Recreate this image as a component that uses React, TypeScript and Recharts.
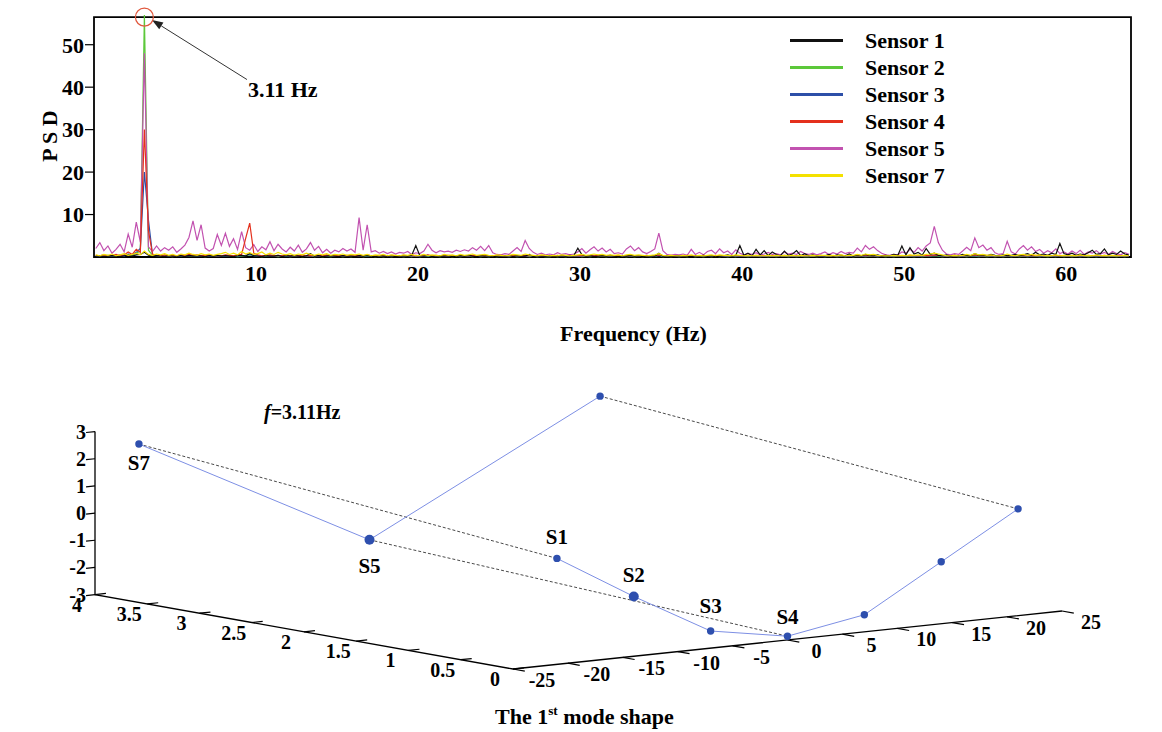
import React from 'react';
import {
  LineChart,
  Line,
  XAxis,
  YAxis,
  Legend,
  ReferenceArea,
  ReferenceDot,
  ReferenceLine,
  ScatterChart,
  Scatter,
} from 'recharts';

const FONT = '"Liberation Serif", "Times New Roman", serif';

// ---- PSD spectra: 0.25 Hz bins, first bin at 0.11 Hz (16 bins per row = 4 Hz)
const F_START = 0.11;
const F_STEP = 0.25;
const PEAK_FREQ = 3.11;

const SENSOR_1 = [
  0.2, 0.3, 0.1, 0.2, 0.3, 0.2, 0.1, 0.3, 0.4, 0.2, 0.5, 0.6, 1.1, 0.4, 0.2, 0.3,
  0.2, 0.1, 0.3, 0.2, 0.2, 0.3, 0.1, 0.4, 0.2, 0.3, 0.2, 0.1, 0.3, 0.2, 0.4, 0.2,
  0.3, 0.2, 0.1, 0.3, 0.4, 0.2, 0.9, 0.3, 0.2, 0.1, 0.3, 0.2, 0.2, 0.4, 0.1, 0.3,
  0.2, 0.3, 0.2, 0.1, 0.3, 0.8, 0.2, 0.3, 0.1, 0.2, 0.3, 0.2, 0.1, 0.3, 0.2, 0.2,
  0.1, 0.3, 0.2, 0.4, 0.2, 0.1, 0.3, 0.2, 0.2, 0.3, 0.1, 0.2, 0.3, 0.2, 0.4, 2.7,
  0.3, 0.2, 0.4, 0.1, 0.3, 0.2, 0.2, 0.3, 0.1, 0.2, 0.3, 0.2, 0.4, 0.2, 0.1, 0.3,
  0.2, 0.3, 0.1, 0.2, 0.3, 0.2, 0.4, 0.1, 0.3, 0.2, 0.2, 0.6, 0.1, 0.3, 0.2, 0.2,
  0.3, 0.1, 0.2, 0.3, 0.2, 0.4, 0.3, 2.1, 0.6, 0.2, 0.3, 0.1, 0.2, 0.3, 0.2, 0.4,
  0.2, 0.1, 0.3, 0.2, 0.4, 0.2, 0.3, 0.1, 0.2, 0.3, 0.2, 0.9, 0.2, 0.3, 0.1, 0.2,
  0.3, 0.2, 0.2, 0.1, 0.3, 0.2, 0.4, 0.2, 0.3, 0.1, 0.2, 0.3, 0.5, 0.2, 0.4, 2.7,
  0.4, 0.9, 0.3, 1.8, 0.5, 1.5, 0.3, 1.2, 0.6, 0.3, 1.4, 0.4, 0.7, 1.5, 0.3, 0.8,
  0.3, 0.5, 0.2, 0.4, 0.3, 0.6, 0.2, 0.5, 0.4, 0.3, 0.7, 0.2, 0.5, 0.3, 0.6, 0.4,
  0.3, 0.5, 0.2, 0.4, 0.3, 0.6, 0.4, 2.6, 0.5, 2.2, 0.7, 1.1, 0.4, 2.0, 0.6, 0.9,
  0.4, 0.3, 0.5, 0.2, 0.4, 0.3, 0.6, 0.4, 0.3, 0.8, 0.4, 0.5, 0.3, 0.6, 0.4, 0.3,
  0.5, 0.3, 0.4, 0.6, 0.3, 0.5, 0.8, 0.4, 1.1, 0.5, 0.7, 0.4, 0.9, 0.6, 3.2, 0.8,
  0.5, 0.9, 0.4, 0.7, 0.5, 1.0, 1.6, 0.6, 0.8, 1.9, 0.5, 0.9, 0.6, 1.4, 0.7, 0.5,
];

const SENSOR_2 = [
  0.3, 0.2, 0.4, 0.2, 0.3, 0.2, 0.5, 0.3, 0.6, 0.4, 0.9, 1.4, 57.0, 1.6, 0.4, 0.3,
  0.2, 0.3, 0.2, 0.1, 0.3, 0.2, 0.4, 0.3, 0.2, 0.3, 0.2, 0.1, 0.2, 0.3, 0.2, 0.2,
  0.3, 0.2, 0.2, 0.1, 0.2, 0.3, 0.5, 0.4, 0.2, 0.1, 0.2, 0.3, 0.2, 0.1, 0.2, 0.2,
  0.1, 0.2, 0.2, 0.1, 0.2, 0.3, 0.1, 0.2, 0.1, 0.2, 0.1, 0.2, 0.2, 0.1, 0.2, 0.1,
  0.2, 0.3, 0.1, 0.2, 0.2, 0.1, 0.2, 0.1, 0.2, 0.1, 0.2, 0.2, 0.1, 0.2, 0.1, 0.3,
  0.1, 0.2, 0.2, 0.1, 0.2, 0.1, 0.2, 0.2, 0.1, 0.2, 0.1, 0.2, 0.2, 0.1, 0.2, 0.1,
  0.2, 0.1, 0.2, 0.1, 0.2, 0.2, 0.1, 0.2, 0.1, 0.2, 0.3, 0.1, 0.2, 0.1, 0.2, 0.1,
  0.1, 0.2, 0.1, 0.2, 0.1, 0.2, 0.2, 0.3, 0.1, 0.2, 0.1, 0.2, 0.1, 0.2, 0.1, 0.2,
  0.2, 0.1, 0.2, 0.1, 0.2, 0.1, 0.2, 0.1, 0.2, 0.1, 0.2, 0.4, 0.1, 0.2, 0.1, 0.2,
  0.1, 0.2, 0.1, 0.2, 0.1, 0.2, 0.1, 0.2, 0.1, 0.2, 0.1, 0.2, 0.1, 0.2, 0.1, 0.3,
  0.2, 0.1, 0.2, 0.3, 0.1, 0.2, 0.1, 0.2, 0.1, 0.2, 0.2, 0.1, 0.2, 0.1, 0.2, 0.1,
  0.1, 0.2, 0.1, 0.2, 0.1, 0.2, 0.2, 0.1, 0.2, 0.1, 0.2, 0.1, 0.2, 0.2, 0.1, 0.2,
  0.2, 0.1, 0.2, 0.1, 0.2, 0.1, 0.2, 0.3, 0.1, 0.2, 0.1, 0.2, 0.1, 0.2, 0.2, 0.3,
  0.2, 0.1, 0.2, 0.1, 0.2, 0.1, 0.2, 0.1, 0.2, 0.2, 0.1, 0.2, 0.1, 0.2, 0.1, 0.2,
  0.1, 0.2, 0.1, 0.2, 0.1, 0.2, 0.1, 0.2, 0.2, 0.1, 0.2, 0.1, 0.2, 0.1, 0.3, 0.1,
  0.2, 0.1, 0.2, 0.1, 0.2, 0.1, 0.2, 0.1, 0.2, 0.2, 0.1, 0.2, 0.1, 0.2, 0.1, 0.2,
];

const SENSOR_3 = [
  0.2, 0.3, 0.2, 0.4, 0.2, 0.3, 0.4, 0.2, 0.7, 0.5, 1.1, 2.0, 20.0, 8.7, 0.6, 0.3,
  0.3, 0.2, 0.3, 0.2, 0.2, 0.3, 0.2, 0.4, 0.3, 0.2, 0.3, 0.2, 0.2, 0.3, 0.2, 0.2,
  0.2, 0.3, 0.2, 0.2, 0.3, 0.4, 0.6, 0.3, 0.2, 0.2, 0.3, 0.2, 0.2, 0.3, 0.2, 0.2,
  0.2, 0.2, 0.3, 0.2, 0.2, 0.3, 0.2, 0.2, 0.2, 0.3, 0.2, 0.2, 0.3, 0.2, 0.2, 0.2,
  0.2, 0.3, 0.2, 0.3, 0.2, 0.2, 0.3, 0.2, 0.2, 0.2, 0.3, 0.2, 0.2, 0.3, 0.2, 0.2,
  0.2, 0.2, 0.3, 0.2, 0.2, 0.3, 0.2, 0.2, 0.2, 0.3, 0.2, 0.2, 0.2, 0.3, 0.2, 0.2,
  0.3, 0.2, 0.2, 0.2, 0.3, 0.2, 0.2, 0.3, 0.2, 0.2, 0.2, 0.3, 0.2, 0.2, 0.2, 0.2,
  0.2, 0.2, 0.3, 0.2, 0.2, 0.2, 0.3, 0.2, 0.2, 0.3, 0.2, 0.2, 0.2, 0.3, 0.2, 0.2,
  0.2, 0.3, 0.2, 0.2, 0.2, 0.3, 0.2, 0.2, 0.3, 0.2, 0.2, 0.4, 0.2, 0.2, 0.3, 0.2,
  0.2, 0.2, 0.3, 0.2, 0.2, 0.2, 0.3, 0.2, 0.2, 0.3, 0.2, 0.2, 0.2, 0.3, 0.2, 0.2,
  0.3, 0.2, 0.2, 0.3, 0.2, 0.2, 0.2, 0.3, 0.2, 0.2, 0.3, 0.2, 0.2, 0.2, 0.3, 0.2,
  0.2, 0.3, 0.2, 0.2, 0.2, 0.3, 0.2, 0.2, 0.3, 0.2, 0.2, 0.2, 0.3, 0.2, 0.2, 0.3,
  0.2, 0.2, 0.2, 0.3, 0.2, 0.2, 0.3, 0.2, 0.2, 0.3, 0.2, 0.2, 0.2, 0.3, 0.2, 0.4,
  0.3, 0.2, 0.2, 0.2, 0.3, 0.2, 0.2, 0.3, 0.2, 0.3, 0.2, 0.2, 0.3, 0.2, 0.2, 0.2,
  0.2, 0.3, 0.2, 0.2, 0.3, 0.2, 0.2, 0.2, 0.3, 0.2, 0.2, 0.3, 0.2, 0.2, 0.3, 0.2,
  0.2, 0.2, 0.3, 0.2, 0.2, 0.3, 0.2, 0.2, 0.2, 0.3, 0.2, 0.2, 0.3, 0.2, 0.2, 0.2,
];

const SENSOR_4 = [
  0.4, 0.3, 0.5, 0.3, 0.4, 0.6, 0.3, 0.5, 1.2, 0.6, 1.8, 1.1, 30.0, 6.2, 0.7, 0.4,
  0.3, 0.5, 0.3, 0.4, 0.3, 0.5, 0.4, 0.6, 0.4, 0.5, 0.3, 0.4, 0.5, 0.3, 0.4, 0.3,
  0.5, 0.4, 0.3, 0.5, 0.6, 4.4, 8.0, 0.9, 0.5, 0.3, 0.4, 0.5, 0.3, 0.4, 0.3, 0.5,
  0.3, 0.4, 0.3, 0.5, 0.3, 0.4, 0.3, 0.4, 0.3, 0.5, 0.3, 0.4, 0.3, 0.3, 0.4, 0.3,
  0.3, 0.4, 0.3, 0.5, 0.3, 0.3, 0.4, 0.3, 0.3, 0.4, 0.3, 0.3, 0.4, 0.3, 0.3, 0.4,
  0.3, 0.3, 0.5, 0.3, 0.4, 0.3, 0.3, 0.4, 0.3, 0.3, 0.4, 0.3, 0.3, 0.4, 0.3, 0.3,
  0.4, 0.3, 0.3, 0.3, 0.4, 0.3, 0.3, 0.4, 0.3, 0.3, 0.4, 0.3, 0.3, 0.3, 0.4, 0.3,
  0.3, 0.3, 0.4, 0.3, 0.3, 0.4, 0.3, 0.3, 0.4, 0.3, 0.3, 0.3, 0.4, 0.3, 0.3, 0.4,
  0.3, 0.4, 0.3, 0.3, 0.4, 0.3, 0.3, 0.3, 0.4, 0.3, 0.3, 0.5, 0.3, 0.3, 0.4, 0.3,
  0.3, 0.3, 0.4, 0.3, 0.3, 0.3, 0.4, 0.3, 0.3, 0.4, 0.3, 0.3, 0.3, 0.4, 0.3, 0.3,
  0.4, 0.3, 0.3, 0.4, 0.3, 0.3, 0.3, 0.4, 0.3, 0.3, 0.4, 0.3, 0.3, 0.3, 0.4, 0.3,
  0.3, 0.4, 0.3, 0.3, 0.3, 0.4, 0.3, 0.3, 0.4, 0.3, 0.3, 0.3, 0.4, 0.3, 0.3, 0.4,
  0.3, 0.3, 0.3, 0.4, 0.3, 0.3, 0.4, 0.3, 0.3, 0.4, 0.3, 0.3, 0.3, 0.4, 0.3, 0.5,
  0.4, 0.3, 0.3, 0.3, 0.4, 0.3, 0.3, 0.4, 0.3, 0.5, 0.3, 0.3, 0.4, 0.3, 0.3, 0.3,
  0.3, 0.4, 0.3, 0.3, 0.4, 0.3, 0.3, 0.3, 0.4, 0.3, 0.3, 0.4, 0.3, 0.3, 0.4, 0.3,
  0.3, 0.3, 0.4, 0.3, 0.3, 0.4, 0.3, 0.3, 0.3, 0.4, 0.3, 0.3, 0.4, 0.3, 0.3, 0.3,
];

const SENSOR_5 = [
  2.0, 3.4, 1.5, 2.6, 0.9, 1.8, 3.0, 1.2, 5.4, 2.3, 8.2, 3.5, 48.0, 2.4, 1.3, 2.6,
  1.4, 2.2, 1.6, 2.4, 1.1, 1.9, 2.8, 4.6, 8.5, 3.9, 7.6, 2.1, 1.4, 2.0, 5.3, 2.7,
  5.6, 2.5, 4.3, 1.8, 6.0, 2.2, 1.6, 2.9, 1.3, 2.4, 1.7, 3.6, 1.5, 3.0, 1.9, 1.2,
  2.3, 1.4, 2.8, 1.1, 1.9, 3.4, 1.6, 2.5, 1.0, 1.8, 0.9, 1.6, 1.2, 2.0, 1.4, 1.9,
  1.1, 9.3, 1.6, 7.6, 1.2, 1.5, 0.9, 1.3, 0.8, 1.2, 0.7, 1.1, 0.9, 1.3, 0.6, 1.0,
  0.8, 1.4, 3.0, 1.6, 1.0, 1.5, 1.2, 1.4, 1.1, 1.6, 1.3, 1.7, 1.4, 2.2, 1.6, 2.5,
  1.5, 2.7, 1.0, 0.6, 0.5, 0.8, 0.6, 1.4, 2.2, 1.3, 3.9, 2.0, 1.1, 0.6, 0.9, 0.5,
  0.7, 0.5, 1.0, 0.6, 0.8, 0.5, 0.7, 1.2, 2.0, 0.9, 1.7, 2.4, 1.4, 2.1, 1.2, 1.8,
  0.8, 1.0, 0.7, 1.9, 2.6, 1.5, 2.2, 1.2, 0.8, 1.3, 1.9, 5.6, 1.5, 0.6, 0.4, 0.6,
  0.5, 0.7, 0.4, 1.8, 0.6, 1.1, 0.5, 1.3, 1.6, 0.8, 1.9, 1.0, 1.4, 0.6, 1.7, 0.9,
  0.5, 0.8, 0.6, 1.0, 0.5, 0.7, 1.1, 0.6, 0.8, 0.5, 1.2, 0.7, 0.9, 0.6, 1.3, 0.8,
  0.6, 0.9, 0.5, 0.8, 1.2, 0.6, 1.0, 0.7, 1.3, 0.8, 1.1, 0.9, 2.1, 1.2, 2.7, 1.8,
  2.4, 1.5, 0.9, 0.5, 0.4, 0.6, 0.5, 1.2, 0.9, 1.8, 1.1, 2.2, 1.4, 2.6, 3.3, 7.2,
  3.4, 1.6, 0.7, 0.5, 0.8, 0.6, 1.4, 2.3, 1.5, 4.5, 2.2, 2.8, 1.6, 2.2, 1.0, 0.6,
  0.8, 3.7, 1.2, 0.7, 1.9, 2.7, 1.6, 2.4, 1.3, 1.8, 0.9, 1.5, 1.0, 1.9, 0.8, 1.2,
  0.7, 1.4, 0.8, 1.6, 0.6, 1.2, 0.9, 1.5, 0.7, 1.1, 0.6, 1.3, 0.8, 0.5, 1.0, 0.7,
];

const SENSOR_7 = [
  0.5, 0.3, 0.6, 0.4, 0.7, 0.3, 0.5, 0.8, 0.4, 0.6, 0.9, 0.5, 1.4, 0.6, 0.4, 0.7,
  0.5, 0.8, 0.4, 0.6, 0.3, 0.7, 0.5, 0.9, 0.6, 0.4, 0.8, 0.5, 0.7, 0.4, 0.6, 0.8,
  1.1, 0.6, 0.9, 0.5, 1.3, 0.7, 1.0, 0.6, 0.8, 1.2, 0.5, 0.9, 0.6, 1.1, 0.7, 0.5,
  0.8, 0.4, 0.7, 0.5, 0.9, 0.6, 0.4, 0.7, 0.5, 0.8, 0.4, 0.6, 0.5, 0.7, 0.4, 0.6,
  0.5, 0.7, 0.4, 0.6, 0.3, 0.5, 0.4, 0.6, 0.3, 0.5, 0.4, 0.3, 0.5, 0.4, 0.6, 0.3,
  0.4, 0.6, 0.3, 0.5, 0.4, 0.3, 0.6, 0.4, 0.5, 0.3, 0.6, 0.4, 0.5, 0.7, 0.4, 0.5,
  0.6, 0.4, 0.3, 0.5, 0.4, 0.3, 0.4, 0.6, 0.5, 0.4, 0.7, 0.5, 0.4, 0.3, 0.5, 0.4,
  0.3, 0.4, 0.3, 0.5, 0.4, 0.3, 0.4, 0.5, 0.6, 0.4, 0.5, 0.7, 0.5, 0.6, 0.4, 0.5,
  0.4, 0.5, 0.3, 0.5, 0.6, 0.4, 0.5, 0.4, 0.3, 0.4, 0.5, 0.8, 0.4, 0.3, 0.4, 0.3,
  0.3, 0.4, 0.3, 0.5, 0.3, 0.4, 0.3, 0.4, 0.5, 0.3, 0.5, 0.4, 0.4, 0.3, 0.5, 0.4,
  0.3, 0.4, 0.3, 0.4, 0.3, 0.3, 0.4, 0.3, 0.4, 0.3, 0.4, 0.3, 0.4, 0.3, 0.4, 0.3,
  0.3, 0.4, 0.3, 0.4, 0.4, 0.3, 0.4, 0.3, 0.5, 0.3, 0.4, 0.4, 0.6, 0.4, 0.7, 0.5,
  0.6, 0.4, 0.3, 0.3, 0.3, 0.4, 0.3, 0.4, 0.3, 0.5, 0.4, 0.5, 0.4, 0.6, 0.7, 0.9,
  0.7, 0.5, 0.3, 0.3, 0.4, 0.3, 0.4, 0.6, 0.4, 0.8, 0.5, 0.6, 0.4, 0.5, 0.3, 0.3,
  0.4, 0.7, 0.4, 0.3, 0.5, 0.6, 0.4, 0.6, 0.4, 0.5, 0.3, 0.4, 0.3, 0.5, 0.3, 0.4,
  0.3, 0.4, 0.3, 0.5, 0.3, 0.4, 0.3, 0.5, 0.3, 0.4, 0.3, 0.4, 0.3, 0.3, 0.4, 0.3,
];

const FREQ_TICKS = [10, 20, 30, 40, 50, 60];
const PSD_TICKS = [10, 20, 30, 40, 50];
const FREQ_MAX = 64;
const PSD_MAX = 56.5;

const SERIES = [
  { key: 's1', name: 'Sensor 1', color: '#111111', values: SENSOR_1 },
  { key: 's2', name: 'Sensor 2', color: '#5cc83a', values: SENSOR_2 },
  { key: 's3', name: 'Sensor 3', color: '#2d4fa8', values: SENSOR_3 },
  { key: 's4', name: 'Sensor 4', color: '#e4301c', values: SENSOR_4 },
  { key: 's5', name: 'Sensor 5', color: '#c252b0', values: SENSOR_5 },
  { key: 's7', name: 'Sensor 7', color: '#f4e100', values: SENSOR_7 },
];
// painting order, so the green peak tops the magenta one and yellow sits on the floor
const DRAW_ORDER = ['s2', 's3', 's5', 's4', 's1', 's7'];

const psdRows = SENSOR_5.map((_, i) => {
  const row: Record<string, number> = { f: +(F_START + F_STEP * i).toFixed(2) };
  SERIES.forEach((s) => (row[s.key] = s.values[i]));
  return row;
});

// ---- first mode shape (3D): front row at depth 0, back row at depth 4
const MODE_FREQ = 3.11;
const X_RANGE = [-25, 25];
const DEPTH_RANGE = [0, 4];
const Z_RANGE = [-3, 3];
const X_TICKS = [-25, -20, -15, -10, -5, 0, 5, 10, 15, 20, 25];
const DEPTH_TICKS = [4, 3.5, 3, 2.5, 2, 1.5, 1, 0.5, 0];
const Z_TICKS = [-3, -2, -1, 0, 1, 2, 3];

const FRONT_X = [-21, -14, -7, 0, 7, 14, 21];
const FRONT_MODE = [0.9, -0.8, -2.37, -2.86, -2.37, -0.72, 0.93];
const FRONT_NAMES = ['S1', 'S2', 'S3', 'S4', '', '', ''];
const BACK_X = [-21, 0, 21];
const BACK_MODE = [2.37, -2.05, 2.34];
const BACK_NAMES = ['S7', 'S5', ''];
const FRONT_DEPTH = 0;
const BACK_DEPTH = 4;

// oblique view of the 3D box, in page pixels
const VIEW = { ox: 513, oy: 669, ex: [10.98, -1.16], ed: [-104.5, -18.6], ez: [0, -27.17] };

function project(x: number, d: number, z: number) {
  const u = x - X_RANGE[0];
  const w = z - Z_RANGE[0];
  return {
    px: VIEW.ox + u * VIEW.ex[0] + d * VIEW.ed[0] + w * VIEW.ez[0],
    py: VIEW.oy + u * VIEW.ex[1] + d * VIEW.ed[1] + w * VIEW.ez[1],
  };
}

const frontPts = FRONT_X.map((x, i) => ({ ...project(x, FRONT_DEPTH, FRONT_MODE[i]), name: FRONT_NAMES[i] }));
const backPts = BACK_X.map((x, i) => ({ ...project(x, BACK_DEPTH, BACK_MODE[i]), name: BACK_NAMES[i] }));
const ties = BACK_X.map((x, i) => [backPts[i], frontPts[FRONT_X.indexOf(x)]]);

const axisFrame = [
  project(X_RANGE[0], DEPTH_RANGE[1], Z_RANGE[1]),
  project(X_RANGE[0], DEPTH_RANGE[1], Z_RANGE[0]),
  project(X_RANGE[0], DEPTH_RANGE[0], Z_RANGE[0]),
  project(X_RANGE[1], DEPTH_RANGE[0], Z_RANGE[0]),
];
const zTickPts = Z_TICKS.map((z) => ({ ...project(X_RANGE[0], DEPTH_RANGE[1], z), label: z }));
const dTickPts = DEPTH_TICKS.map((d) => ({ ...project(X_RANGE[0], d, Z_RANGE[0]), label: d }));
const xTickPts = X_TICKS.map((x) => ({ ...project(x, DEPTH_RANGE[0], Z_RANGE[0]), label: x }));

const BIG_DOTS = ['S5', 'S2'];
const LABEL_DY: Record<string, number> = { S7: 19, S5: 26, S1: -21, S2: -21, S3: -25, S4: -19 };

const tickText = { fontFamily: FONT, fontWeight: 700, fontSize: 20, fill: '#000' };

function norm(v: number[]) {
  const l = Math.hypot(v[0], v[1]);
  return [v[0] / l, v[1] / l];
}
const UX = norm(VIEW.ex);
const UD = norm(VIEW.ed);

function ZTick(p: any) {
  const { cx, cy, payload } = p;
  return (
    <g>
      <line x1={cx} y1={cy} x2={cx - UX[0] * 9} y2={cy - UX[1] * 9} stroke="#000" strokeWidth={1.2} />
      <text x={cx - 9} y={cy} textAnchor="end" dominantBaseline="central" {...tickText}>
        {payload.label}
      </text>
    </g>
  );
}

function DTick(p: any) {
  const { cx, cy, payload } = p;
  return (
    <g>
      <line x1={cx} y1={cy} x2={cx + UX[0] * 11} y2={cy + UX[1] * 11} stroke="#000" strokeWidth={1.2} />
      <text x={cx - 18} y={cy + 10} textAnchor="middle" dominantBaseline="central" {...tickText}>
        {payload.label}
      </text>
    </g>
  );
}

function XTick(p: any) {
  const { cx, cy, payload } = p;
  return (
    <g>
      <line x1={cx} y1={cy} x2={cx - UD[0] * 12} y2={cy - UD[1] * 12} stroke="#000" strokeWidth={1.2} />
      <text x={cx + 29} y={cy + 11} textAnchor="middle" dominantBaseline="central" {...tickText}>
        {payload.label}
      </text>
    </g>
  );
}

function SensorDot(p: any) {
  const { cx, cy, payload } = p;
  const name = payload.name;
  return (
    <g>
      <circle cx={cx} cy={cy} r={BIG_DOTS.includes(name) ? 5 : 3.7} fill="#2e4fae" />
      {name && (
        <text x={cx} y={cy + LABEL_DY[name]} textAnchor="middle" dominantBaseline="central" {...tickText} fontSize={21}>
          {name}
        </text>
      )}
    </g>
  );
}

const NoDot = () => <g />;

function PeakArrow(p: any) {
  const { x1, y1, x2, y2 } = p;
  const a = Math.atan2(y2 - y1, x2 - x1);
  const bx = x2 - 11 * Math.cos(a);
  const by = y2 - 11 * Math.sin(a);
  const s = Math.sin(a);
  const c = Math.cos(a);
  const head = `${x2},${y2} ${bx - 4 * s},${by + 4 * c} ${bx + 4 * s},${by - 4 * c}`;
  return (
    <g>
      <line x1={x1} y1={y1} x2={bx} y2={by} stroke="#333" strokeWidth={1} />
      <polygon points={head} fill="#222" />
      <text x={x1 + 1} y={y1 + 10} dominantBaseline="central" fontFamily={FONT} fontWeight={700} fontSize={22} fill="#000">
        {PEAK_FREQ} Hz
      </text>
    </g>
  );
}

function PsdLegend() {
  return (
    <div style={{ fontFamily: FONT, fontWeight: 700, fontSize: 22, color: '#000' }}>
      {SERIES.map((s) => (
        <div key={s.key} style={{ display: 'flex', alignItems: 'center', height: 27 }}>
          <span style={{ width: 53, height: 2.5, background: s.color, marginRight: 22, display: 'inline-block' }} />
          <span>{s.name}</span>
        </div>
      ))}
    </div>
  );
}

const axisTick = { fontFamily: FONT, fontWeight: 700, fontSize: 22, fill: '#000' };

export default function App() {
  return (
    <div style={{ position: 'absolute', left: 0, top: 0, width: 1162, height: 732, background: '#fff', overflow: 'hidden' }}>
      <div style={{ position: 'absolute', left: 0, top: 0 }}>
        <LineChart width={1162} height={350} data={psdRows} margin={{ top: 15, right: 31, bottom: 0, left: 0 }}>
          <XAxis
            dataKey="f"
            type="number"
            domain={[0, FREQ_MAX]}
            ticks={FREQ_TICKS}
            height={93}
            axisLine={false}
            tickLine={false}
            tick={axisTick}
            label={{
              value: 'Frequency (Hz)',
              content: (lp: any) => (
                <text
                  x={lp.viewBox.x + lp.viewBox.width / 2 + 21}
                  y={lp.viewBox.y + 76}
                  textAnchor="middle"
                  dominantBaseline="central"
                  fontFamily={FONT}
                  fontWeight={700}
                  fontSize={22}
                  fill="#000"
                >
                  Frequency (Hz)
                </text>
              ),
            }}
          />
          <YAxis
            type="number"
            domain={[0, PSD_MAX]}
            ticks={PSD_TICKS}
            width={94}
            axisLine={false}
            tickSize={9}
            tickMargin={1}
            tickLine={{ stroke: '#000', strokeWidth: 1.2 }}
            tick={axisTick}
            label={{
              value: 'P S D',
              content: (lp: any) => {
                const x = lp.viewBox.x + 49;
                const y = lp.viewBox.y + lp.viewBox.height / 2;
                return (
                  <text
                    x={x}
                    y={y}
                    transform={`rotate(-90 ${x} ${y})`}
                    textAnchor="middle"
                    dominantBaseline="central"
                    fontFamily={FONT}
                    fontWeight={700}
                    fontSize={22}
                    fill="#000"
                  >
                    P S D
                  </text>
                );
              },
            }}
          />
          {DRAW_ORDER.map((k) => {
            const s = SERIES.find((q) => q.key === k)!;
            return (
              <Line
                key={k}
                dataKey={k}
                name={s.name}
                stroke={s.color}
                strokeWidth={1.2}
                dot={false}
                activeDot={false}
                type="linear"
                isAnimationActive={false}
              />
            );
          })}
          <ReferenceArea
            x1={0}
            x2={FREQ_MAX}
            y1={0}
            y2={PSD_MAX}
            fill="none"
            fillOpacity={0}
            stroke="#000"
            strokeWidth={1.8}
            ifOverflow="visible"
          />
          <ReferenceDot
            x={PEAK_FREQ}
            y={PSD_MAX}
            r={9}
            fill="none"
            stroke="#e0573c"
            strokeWidth={1.2}
            ifOverflow="visible"
          />
          <ReferenceLine
            segment={[
              { x: 9.44, y: 41.8 },
              { x: 3.58, y: 55.8 },
            ]}
            ifOverflow="visible"
            shape={PeakArrow}
          />
          <Legend
            layout="vertical"
            align="center"
            verticalAlign="middle"
            content={() => <PsdLegend />}
            wrapperStyle={{ left: 790, top: 27, width: 200, height: 170 }}
          />
        </LineChart>
      </div>

      <div style={{ position: 'absolute', left: 0, top: 360 }}>
        <ScatterChart width={1162} height={372} margin={{ top: 0, right: 0, bottom: 0, left: 0 }}>
          <XAxis dataKey="px" type="number" domain={[0, 1162]} hide />
          <YAxis dataKey="py" type="number" domain={[360, 732]} reversed hide />
          <Scatter
            data={axisFrame}
            line={{ stroke: '#000', strokeWidth: 1.3 }}
            shape={NoDot}
            isAnimationActive={false}
          />
          <Scatter data={zTickPts} shape={ZTick} isAnimationActive={false} />
          <Scatter data={dTickPts} shape={DTick} isAnimationActive={false} />
          <Scatter data={xTickPts} shape={XTick} isAnimationActive={false} />
          {ties.map((pair, i) => (
            <Scatter
              key={i}
              data={pair}
              line={{ stroke: '#4a4a4a', strokeWidth: 1, strokeDasharray: '3 2' }}
              shape={NoDot}
              isAnimationActive={false}
            />
          ))}
          <Scatter
            data={backPts}
            fill="#2e4fae"
            line={{ stroke: '#7d8fe4', strokeWidth: 1 }}
            shape={SensorDot}
            isAnimationActive={false}
          />
          <Scatter
            data={frontPts}
            fill="#2e4fae"
            line={{ stroke: '#7d8fe4', strokeWidth: 1 }}
            shape={SensorDot}
            isAnimationActive={false}
          />
        </ScatterChart>
      </div>

      <div
        style={{
          position: 'absolute',
          left: 264,
          top: 400,
          fontFamily: FONT,
          fontWeight: 700,
          fontSize: 20,
          lineHeight: '24px',
          color: '#000',
          whiteSpace: 'nowrap',
        }}
      >
        <i>f</i>={MODE_FREQ}Hz
      </div>
      <div
        style={{
          position: 'absolute',
          left: 495,
          top: 704,
          fontFamily: FONT,
          fontWeight: 700,
          fontSize: 22,
          lineHeight: '26px',
          color: '#000',
          whiteSpace: 'nowrap',
        }}
      >
        The 1
        <span style={{ fontSize: '0.6em', position: 'relative', top: '-0.7em', lineHeight: 0 }}>st</span> mode shape
      </div>
    </div>
  );
}
